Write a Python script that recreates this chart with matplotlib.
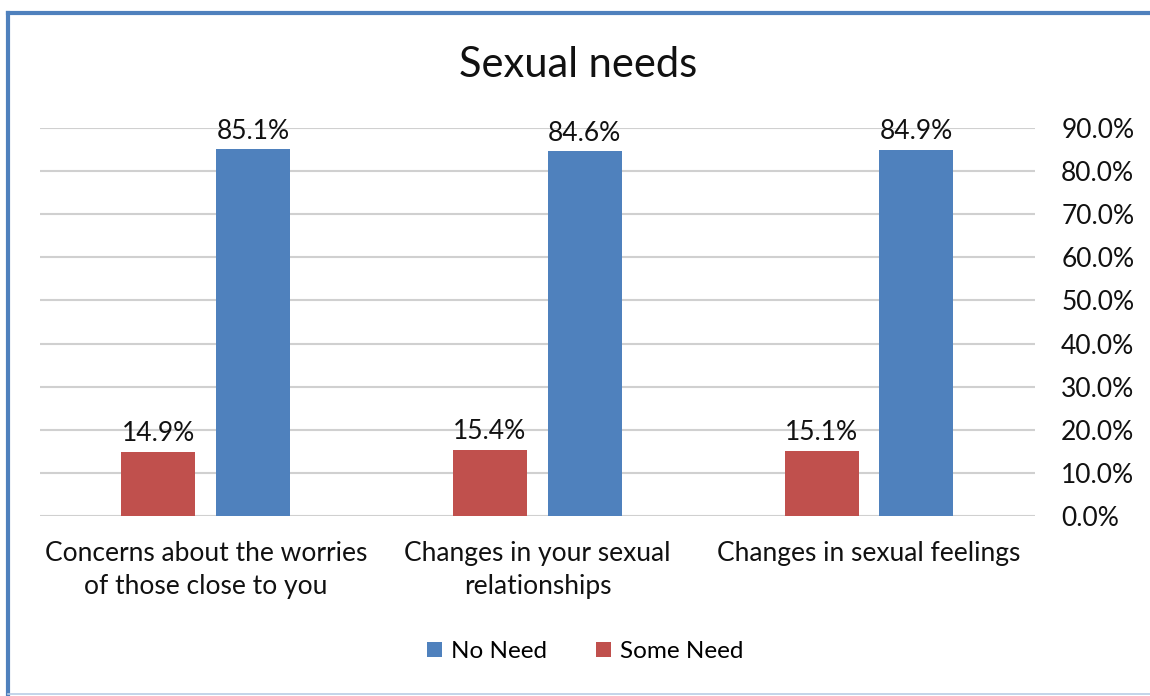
import matplotlib.pyplot as plt
import numpy as np
from matplotlib.lines import Line2D

plt.rcParams['font.family'] = ['Lato', 'DejaVu Sans']

categories = ['Concerns about the worries\nof those close to you',
              'Changes in your sexual\nrelationships',
              'Changes in sexual feelings']
some_need = [14.9, 15.4, 15.1]
no_need = [85.1, 84.6, 84.9]
yticks = np.arange(0, 91, 10)

blue = '#4F81BD'
red = '#C0504D'

fig = plt.figure(figsize=(11.5, 6.96), dpi=100)
ax = fig.add_axes([0.0348, 0.2586, 0.865, 0.5574])

x = np.arange(len(categories))
w = 0.223
off = 0.143
b1 = ax.bar(x - off, some_need, w, color=red, label='Some Need', zorder=3)
b2 = ax.bar(x + off, no_need, w, color=blue, label='No Need', zorder=3)

for bars in (b1, b2):
    for r in bars:
        ax.annotate(f'{r.get_height():.1f}%', (r.get_x() + r.get_width() / 2, r.get_height()),
                    xytext=(0, 4), textcoords='offset points', ha='center', va='bottom',
                    fontsize=19, color='#111111')

ax.set_xlim(-0.5, 2.5)
ax.set_ylim(0, 90)
ax.set_yticks(yticks)
ax.set_yticklabels([f'{v:.1f}%' for v in yticks])
ax.yaxis.tick_right()
ax.tick_params(axis='y', length=0, pad=19, labelsize=19, labelcolor='#111111')
ax.set_xticks(x)
ax.set_xticklabels(categories, linespacing=1.38)
ax.tick_params(axis='x', length=0, pad=18, labelsize=19, labelcolor='#111111')
ax.grid(axis='y', color='#D0D0D0', linewidth=1.5, zorder=0)
for s in ax.spines.values():
    s.set_visible(False)

fig.text(0.503, 0.907, 'Sexual needs', ha='center', va='center', fontsize=30, color='#111111')

handles = [b2, b1]
fig.legend(handles, ['No Need', 'Some Need'], loc='center', bbox_to_anchor=(0.509, 0.064),
           ncol=2, frameon=False, fontsize=17.5, handlelength=0.6, handleheight=0.6,
           handletextpad=0.4, columnspacing=2.0)

# chart frame
fig.add_artist(Line2D([8 / 1150, 1], [1 - 13 / 696, 1 - 13 / 696], color=blue, linewidth=3,
                      transform=fig.transFigure))
fig.add_artist(Line2D([8 / 1150, 8 / 1150], [1 - 13 / 696, 2 / 696], color=blue, linewidth=3,
                      transform=fig.transFigure))
fig.add_artist(Line2D([8 / 1150, 1], [2 / 696, 2 / 696], color='#B9CDE5', linewidth=1.2,
                      transform=fig.transFigure))

fig.savefig('out.png', dpi=100)
